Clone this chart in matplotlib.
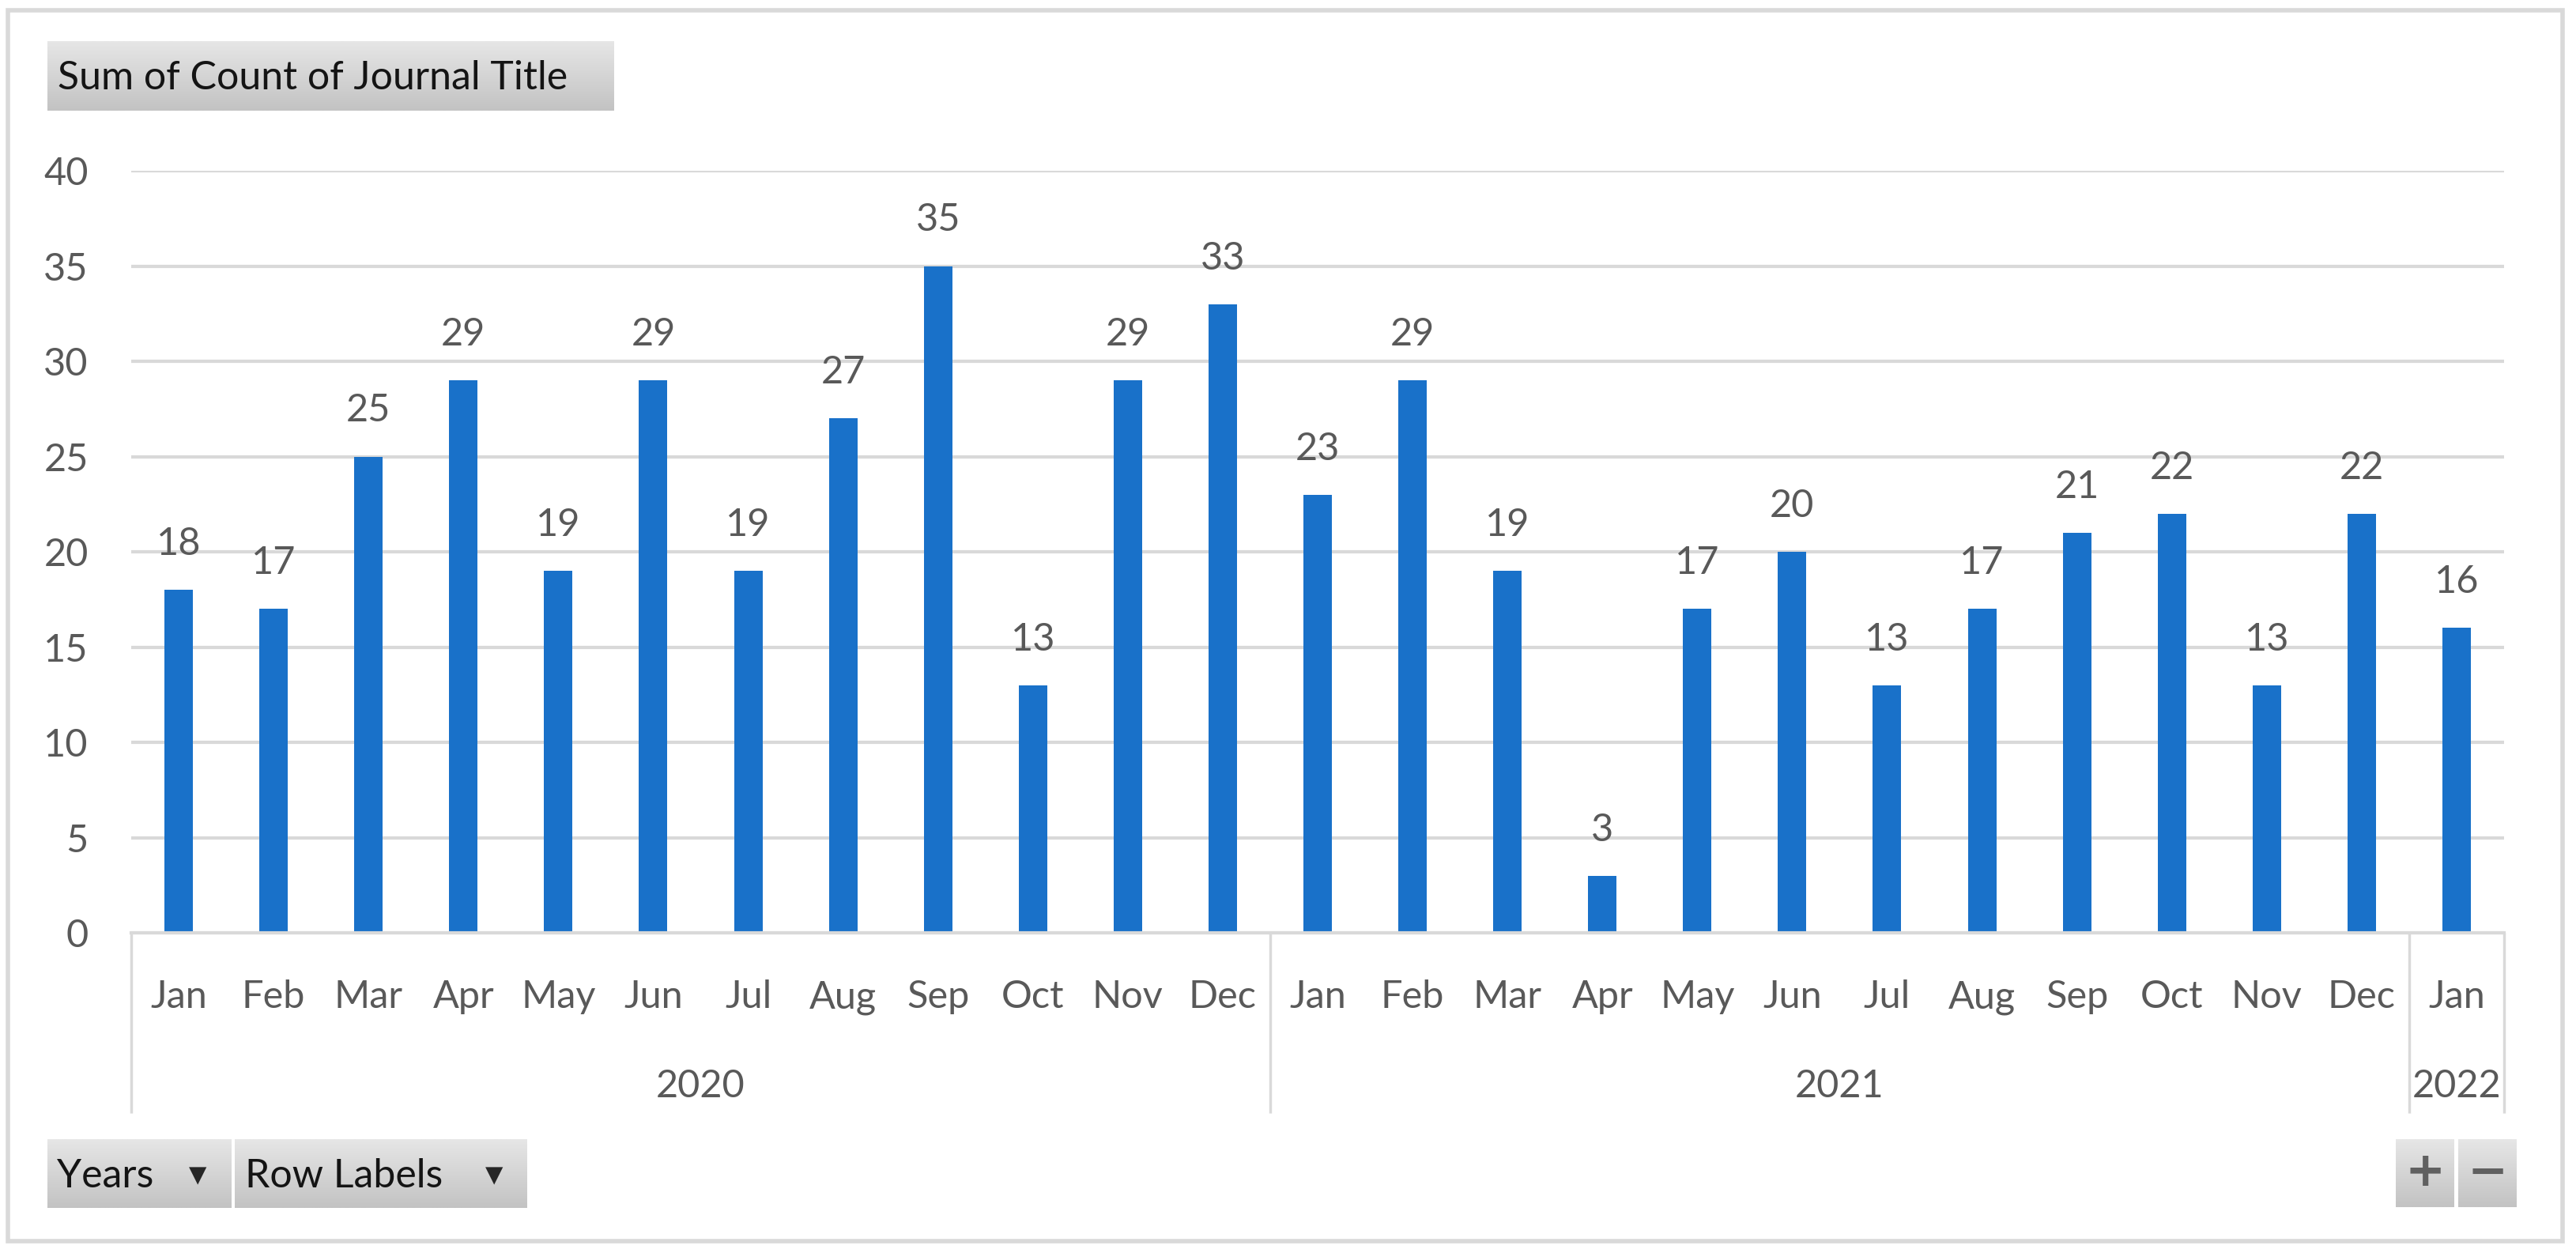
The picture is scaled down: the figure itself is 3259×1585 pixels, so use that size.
import numpy as np
import matplotlib
matplotlib.use("Agg")
import matplotlib.pyplot as plt
from matplotlib.patches import Rectangle
from matplotlib import transforms as mtransforms
from matplotlib.colors import LinearSegmentedColormap

plt.rcParams['font.family'] = ['Lato', 'DejaVu Sans']

# ---------------- data ----------------
months = ["Jan", "Feb", "Mar", "Apr", "May", "Jun", "Jul", "Aug", "Sep", "Oct", "Nov", "Dec",
          "Jan", "Feb", "Mar", "Apr", "May", "Jun", "Jul", "Aug", "Sep", "Oct", "Nov", "Dec",
          "Jan"]
values = [18, 17, 25, 29, 19, 29, 19, 27, 35, 13, 29, 33,
          23, 29, 19, 3, 17, 20, 13, 17, 21, 22, 13, 22,
          16]
years = ["2020", "2021", "2022"]
year_counts = [12, 12, 1]
y_ticks = [0, 5, 10, 15, 20, 25, 30, 35, 40]
title_text = "Sum of Count of Journal Title"
field_buttons = ["Years", "Row Labels"]

# ---------------- style ----------------
W, H = 3259, 1585
DPI = 100
BAR = "#1971c9"
TXT = "#595959"
GRID = "#d9d9d9"
FS = 35

fig = plt.figure(figsize=(W / DPI, H / DPI), dpi=DPI)
fig.patch.set_facecolor("white")

def fx(px):
    return px / W

def fy(py):
    return 1 - py / H

ax_l, ax_r, ax_t, ax_b = 166, 3168, 216, 1180
ax = fig.add_axes([fx(ax_l), fy(ax_b), fx(ax_r - ax_l), (ax_b - ax_t) / H])

x = np.arange(len(values))
bars = ax.bar(x, values, width=0.3, color=BAR, zorder=3)
ax.set_xlim(-0.5, len(values) - 0.5)
ax.set_ylim(0, 40)

ax.set_yticks(y_ticks)
ax.set_yticklabels([str(v) for v in y_ticks])
ax.yaxis.grid(True, color=GRID, linewidth=3.0, zorder=0)
ax.set_axisbelow(True)
for s in ["top", "right", "left"]:
    ax.spines[s].set_visible(False)
ax.spines["bottom"].set_color(GRID)
ax.spines["bottom"].set_linewidth(3.0)
ax.spines["bottom"].set_zorder(4)
ax.tick_params(axis="y", length=0, pad=39, labelsize=FS, labelcolor=TXT)
ax.tick_params(axis="x", length=0, pad=68.4, labelsize=FS, labelcolor=TXT)
ax.set_xticks(x)
ax.set_xticklabels(months)
for lbl in ax.get_xticklabels():
    lbl.set_va("baseline")

# data labels
ax.bar_label(bars, labels=[str(v) for v in values], padding=26, fontsize=FS, color=TXT)

# multi-level category separators
boundaries = [-0.5]
acc = -0.5
for c in year_counts:
    acc += c
    boundaries.append(acc)
sep_depth = (1408 - ax_b) / (ax_b - ax_t)
ax.vlines(boundaries, -sep_depth, 0, transform=ax.get_xaxis_transform(),
          colors=GRID, linewidth=2.5, clip_on=False, zorder=2)

# year labels
year_trans = mtransforms.offset_copy(ax.get_xaxis_transform(), fig=fig, x=0, y=-208 * 72 / DPI, units="points")
start = -0.5
for yr, c in zip(years, year_counts):
    ax.text(start + c / 2, 0, yr, transform=year_trans, ha="center", va="baseline",
            fontsize=FS, color=TXT)
    start += c

# outer frame
fig.add_artist(Rectangle((fx(10), fy(1570)), fx(3242 - 10), (1570 - 13) / H,
                         transform=fig.transFigure, fill=False, ec=GRID, lw=4))

# gradient buttons
grad = np.linspace(0, 1, 64).reshape(-1, 1)
cmap_btn = LinearSegmentedColormap.from_list("btn", ["#e6e6e6", "#c3c3c3"])

def button(x0, y0, x1, y1):
    bax = fig.add_axes([fx(x0), fy(y1), fx(x1 - x0), (y1 - y0) / H])
    bax.imshow(grad, aspect="auto", cmap=cmap_btn, extent=(0, 1, 0, 1), origin="upper")
    bax.set_xlim(0, 1)
    bax.set_ylim(0, 1)
    bax.axis("off")
    return bax

# title button
button(60, 52, 776, 140)
fig.text(fx(73), fy(113), title_text, fontsize=36, color="#141414", ha="left", va="baseline")

# field buttons
btn_specs = [(60, 292, 72, 250), (297, 666, 310, 625)]
for name, (x0, x1, tx, tri) in zip(field_buttons, btn_specs):
    button(x0, 1441, x1, 1528)
    fig.text(fx(tx), fy(1502), name, fontsize=36, color="#141414", ha="left", va="baseline")
    fig.text(fx(tri), fy(1487), "\u25bc", fontsize=21, color="#262626", ha="center", va="center",
             family="DejaVu Sans")

# +/- buttons
button(3031, 1441, 3105, 1527)
fig.text(fx(3068), fy(1484), "+", fontsize=44, color="#606060", ha="center", va="center",
         weight="bold", family="DejaVu Sans")
button(3110, 1441, 3184, 1527)
fig.text(fx(3147), fy(1484), "\u2212", fontsize=44, color="#606060", ha="center", va="center",
         weight="bold", family="DejaVu Sans")

fig.savefig("out.png", dpi=DPI, facecolor="white")
